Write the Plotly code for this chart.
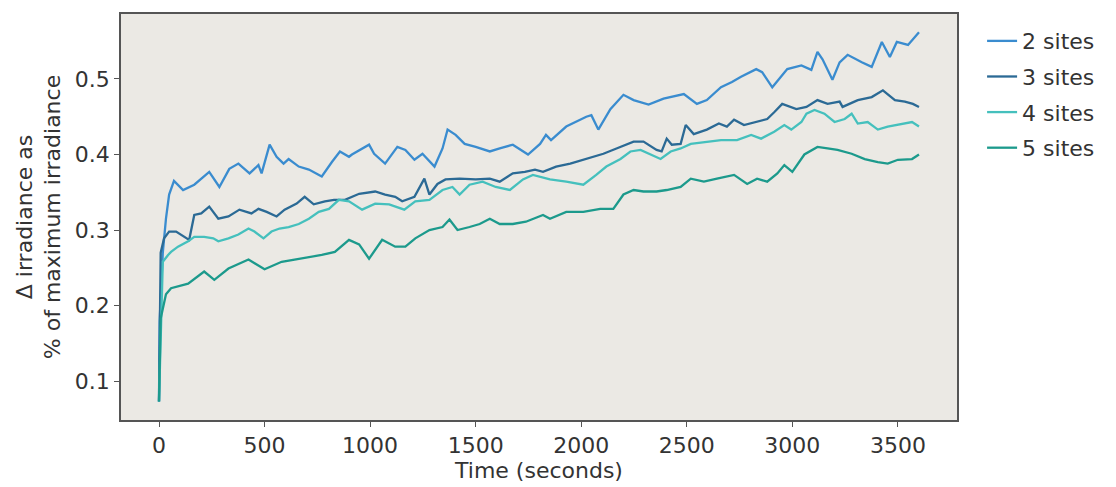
import plotly.graph_objects as go

# ---- data ----
t2 = [0, 3, 18, 33, 48, 62, 71, 114, 167, 238, 286, 333, 376, 429, 471, 486, 524, 557, 590, 614,
      662, 710, 771, 819, 857, 900, 914, 995, 1019, 1071, 1129, 1167, 1210, 1248, 1305, 1343, 1367,
      1405, 1448, 1500, 1567, 1614, 1676, 1748, 1805, 1833, 1857, 1929, 1995, 2024, 2048, 2081, 2138,
      2200, 2248, 2319, 2390, 2486, 2548, 2595, 2662, 2714, 2757, 2829, 2857, 2905, 2976, 3043, 3090,
      3119, 3143, 3190, 3224, 3262, 3329, 3376, 3424, 3462, 3495, 3548, 3600]
v2 = [0.073, 0.18, 0.27, 0.315, 0.347, 0.36, 0.365, 0.353, 0.36, 0.377, 0.357, 0.381, 0.388, 0.375,
      0.386, 0.375, 0.413, 0.397, 0.388, 0.394, 0.384, 0.38, 0.371, 0.39, 0.404, 0.397, 0.40, 0.413,
      0.401, 0.388, 0.41, 0.406, 0.393, 0.401, 0.384, 0.408, 0.433, 0.426, 0.414, 0.41, 0.404, 0.408,
      0.413, 0.40, 0.414, 0.426, 0.419, 0.437, 0.446, 0.45, 0.452, 0.433, 0.46, 0.479, 0.472, 0.466,
      0.474, 0.48, 0.467, 0.472, 0.489, 0.496, 0.503, 0.513, 0.509, 0.489, 0.513, 0.518, 0.512, 0.536,
      0.526, 0.499, 0.522, 0.532, 0.522, 0.516, 0.549, 0.529, 0.549, 0.545, 0.562]

t3 = [0, 8, 24, 48, 81, 119, 143, 167, 200, 238, 281, 329, 381, 438, 471, 510, 557, 595, 652, 690,
      733, 786, 829, 881, 948, 1024, 1071, 1119, 1152, 1210, 1257, 1281, 1319, 1357, 1424, 1500, 1567,
      1614, 1676, 1733, 1781, 1819, 1881, 1948, 2024, 2105, 2167, 2248, 2295, 2357, 2381, 2405, 2429,
      2471, 2495, 2533, 2595, 2652, 2690, 2724, 2771, 2833, 2881, 2914, 2952, 3019, 3067, 3119, 3167,
      3224, 3238, 3310, 3376, 3429, 3486, 3533, 3571, 3600]
v3 = [0.073, 0.27, 0.289, 0.298, 0.298, 0.291, 0.287, 0.32, 0.322, 0.331, 0.315, 0.318, 0.327, 0.322,
      0.328, 0.324, 0.318, 0.327, 0.335, 0.344, 0.334, 0.338, 0.34, 0.34, 0.348, 0.351, 0.347, 0.344,
      0.338, 0.344, 0.368, 0.347, 0.361, 0.367, 0.368, 0.367, 0.368, 0.364, 0.375, 0.377, 0.38, 0.377,
      0.384, 0.388, 0.394, 0.401, 0.408, 0.417, 0.417, 0.406, 0.404, 0.421, 0.413, 0.414, 0.439, 0.427,
      0.433, 0.441, 0.437, 0.446, 0.439, 0.443, 0.447, 0.456, 0.467, 0.46, 0.463, 0.472, 0.467, 0.47,
      0.463, 0.472, 0.476, 0.485, 0.472, 0.47, 0.467, 0.463]

t4 = [0, 18, 43, 57, 90, 138, 167, 214, 257, 281, 329, 376, 424, 452, 495, 533, 571, 614, 662, 710,
      757, 805, 852, 900, 962, 1024, 1090, 1162, 1214, 1281, 1343, 1390, 1424, 1471, 1533, 1595, 1662,
      1724, 1771, 1852, 1929, 2010, 2071, 2119, 2186, 2233, 2281, 2329, 2376, 2424, 2471, 2519, 2595,
      2662, 2738, 2805, 2852, 2914, 2962, 2995, 3043, 3067, 3105, 3152, 3200, 3248, 3281, 3310, 3357,
      3405, 3452, 3519, 3567, 3600]
v4 = [0.073, 0.258, 0.267, 0.271, 0.278, 0.285, 0.291, 0.291, 0.289, 0.285, 0.289, 0.294, 0.302, 0.298,
      0.289, 0.298, 0.302, 0.304, 0.308, 0.315, 0.324, 0.328, 0.34, 0.338, 0.327, 0.335, 0.334, 0.327,
      0.338, 0.34, 0.353, 0.357, 0.347, 0.36, 0.364, 0.357, 0.353, 0.367, 0.373, 0.367, 0.364, 0.36,
      0.373, 0.384, 0.394, 0.404, 0.406, 0.40, 0.394, 0.404, 0.408, 0.414, 0.417, 0.419, 0.419, 0.426,
      0.421, 0.43, 0.439, 0.433, 0.443, 0.454, 0.459, 0.454, 0.443, 0.447, 0.454, 0.441, 0.443, 0.433,
      0.437, 0.441, 0.443, 0.437]

t5 = [0, 8, 33, 57, 138, 214, 262, 329, 424, 500, 581, 676, 771, 833, 900, 948, 995, 1057, 1119, 1167,
      1214, 1281, 1343, 1376, 1414, 1471, 1519, 1567, 1614, 1676, 1738, 1819, 1852, 1929, 2010, 2090,
      2152, 2200, 2248, 2295, 2357, 2405, 2471, 2519, 2581, 2643, 2724, 2786, 2833, 2881, 2929, 2962,
      3000, 3057, 3119, 3167, 3214, 3281, 3343, 3405, 3452, 3500, 3567, 3600]
v5 = [0.073, 0.183, 0.215, 0.223, 0.229, 0.245, 0.234, 0.249, 0.261, 0.248, 0.258, 0.262, 0.267, 0.271,
      0.287, 0.281, 0.262, 0.287, 0.278, 0.278, 0.289, 0.30, 0.304, 0.314, 0.30, 0.304, 0.308, 0.315,
      0.308, 0.308, 0.311, 0.32, 0.315, 0.324, 0.324, 0.328, 0.328, 0.347, 0.353, 0.351, 0.351, 0.353,
      0.357, 0.368, 0.364, 0.368, 0.373, 0.361, 0.368, 0.364, 0.375, 0.386, 0.377, 0.40, 0.41, 0.408,
      0.406, 0.401, 0.394, 0.39, 0.388, 0.393, 0.394, 0.40]

names = ["2 sites", "3 sites", "4 sites", "5 sites"]
colors = ["#3a8ccf", "#2b6a95", "#45c0bd", "#1c9a8c"]

x_ticks = [0, 500, 1000, 1500, 2000, 2500, 3000, 3500]
y_ticks = [0.1, 0.2, 0.3, 0.4, 0.5]

fig = go.Figure()
for i, (t, v) in enumerate([(t2, v2), (t3, v3), (t4, v4), (t5, v5)]):
    fig.add_trace(go.Scatter(x=t, y=v, mode="lines", name=names[i], legendgroup=names[i],
                             line=dict(color=colors[i], width=2.3)))

FS = 22
axis_common = dict(showline=True, mirror=True, linecolor="#555555", linewidth=1.5,
                   ticks="outside", ticklen=5, tickwidth=1, tickcolor="#555555",
                   showgrid=False, zeroline=False, automargin=False,
                   tickfont=dict(family="DejaVu Sans", size=FS, color="#333333"))

fig.update_layout(
    width=1116, height=487,
    margin=dict(l=113, r=167, t=6, b=75),
    paper_bgcolor="white",
    plot_bgcolor="#ebe9e4",
    font=dict(family="DejaVu Sans", color="#333333"),
    xaxis=dict(range=[-180, 3780], tickvals=x_ticks,
               title=dict(text="Time (seconds)", font=dict(size=FS), standoff=4),
               **axis_common),
    yaxis=dict(range=[0.0485, 0.586], tickvals=y_ticks, tickformat=".1f",
               title=dict(text="Δ irradiance as<br>% of maximum irradiance", font=dict(size=FS), standoff=8),
               **axis_common),
    legend=dict(x=1.03, y=0.985, xanchor="left", yanchor="top",
                font=dict(family="DejaVu Sans", size=FS, color="#333333"),
                tracegroupgap=4, bgcolor="rgba(0,0,0,0)"),
    showlegend=True,
)

fig.write_html("out.html")
